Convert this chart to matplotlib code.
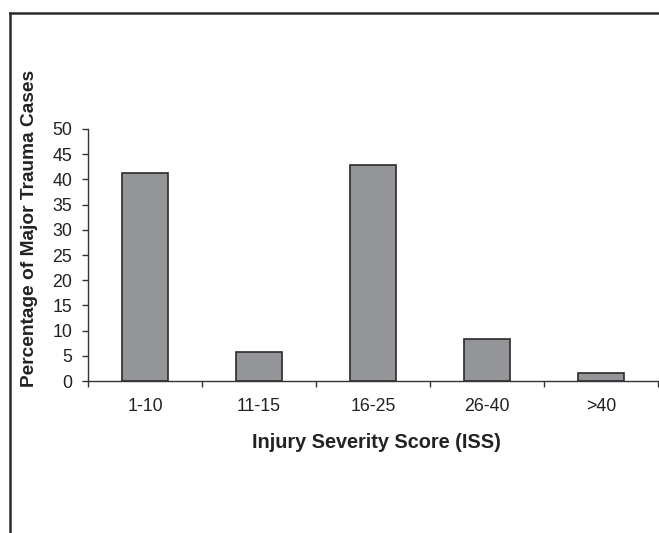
import matplotlib
matplotlib.use("Agg")
import matplotlib.pyplot as plt
from matplotlib.lines import Line2D
import numpy as np

categories = ["1-10", "11-15", "16-25", "26-40", ">40"]
values = [41.3, 5.8, 42.8, 8.4, 1.6]
yticks = list(range(0, 51, 5))

plt.rcParams['font.family'] = ['Liberation Sans', 'DejaVu Sans']

W, H = 659, 533
fig = plt.figure(figsize=(W / 100, H / 100), dpi=100)
fig.patch.set_facecolor('white')

ax = fig.add_axes([88 / W, (H - 381) / H, (658 - 88) / W, (381 - 129) / H])

x = np.arange(len(categories))
ax.bar(x, values, width=0.4, color='#949598', edgecolor='#2b2b2b', linewidth=1.2, zorder=3)

ax.set_xlim(-0.5, len(categories) - 0.5)
ax.set_ylim(0, 50)
ax.set_yticks(yticks)
ax.set_yticklabels([str(t) for t in yticks])

ax.set_xticks(np.arange(-0.5, len(categories), 1.0))
ax.set_xticklabels([])
ax.set_xticks(x, minor=True)
ax.set_xticklabels(categories, minor=True)

ax.tick_params(axis='x', which='major', direction='out', length=4.5, width=1.0, color='#333333')
ax.tick_params(axis='x', which='minor', length=0, pad=12, labelsize=12.8, labelcolor='#222222')
ax.tick_params(axis='y', direction='out', length=4.5, width=1.0, color='#333333', pad=7,
               labelsize=12.8, labelcolor='#222222')

for s in ['top', 'right']:
    ax.spines[s].set_visible(False)
for s in ['left', 'bottom']:
    ax.spines[s].set_color('#333333')
    ax.spines[s].set_linewidth(1.0)

fig.text(376 / W, (H - 442) / H, "Injury Severity Score (ISS)", ha='center', va='center',
         fontsize=14.3, fontweight='bold', color='#222222')
fig.text(30 / W, (H - 228) / H, "Percentage of Major Trauma Cases", ha='center', va='center',
         rotation=90, fontsize=13.8, fontweight='bold', color='#222222')

# outer frame (left and top)
fig.add_artist(Line2D([10 / W, 10 / W], [0, (H - 13) / H], transform=fig.transFigure,
                      color='#2a2a2a', linewidth=1.8))
fig.add_artist(Line2D([10 / W, 1.0], [(H - 13) / H, (H - 13) / H], transform=fig.transFigure,
                      color='#2a2a2a', linewidth=1.8))

fig.savefig("out.png", dpi=100)
